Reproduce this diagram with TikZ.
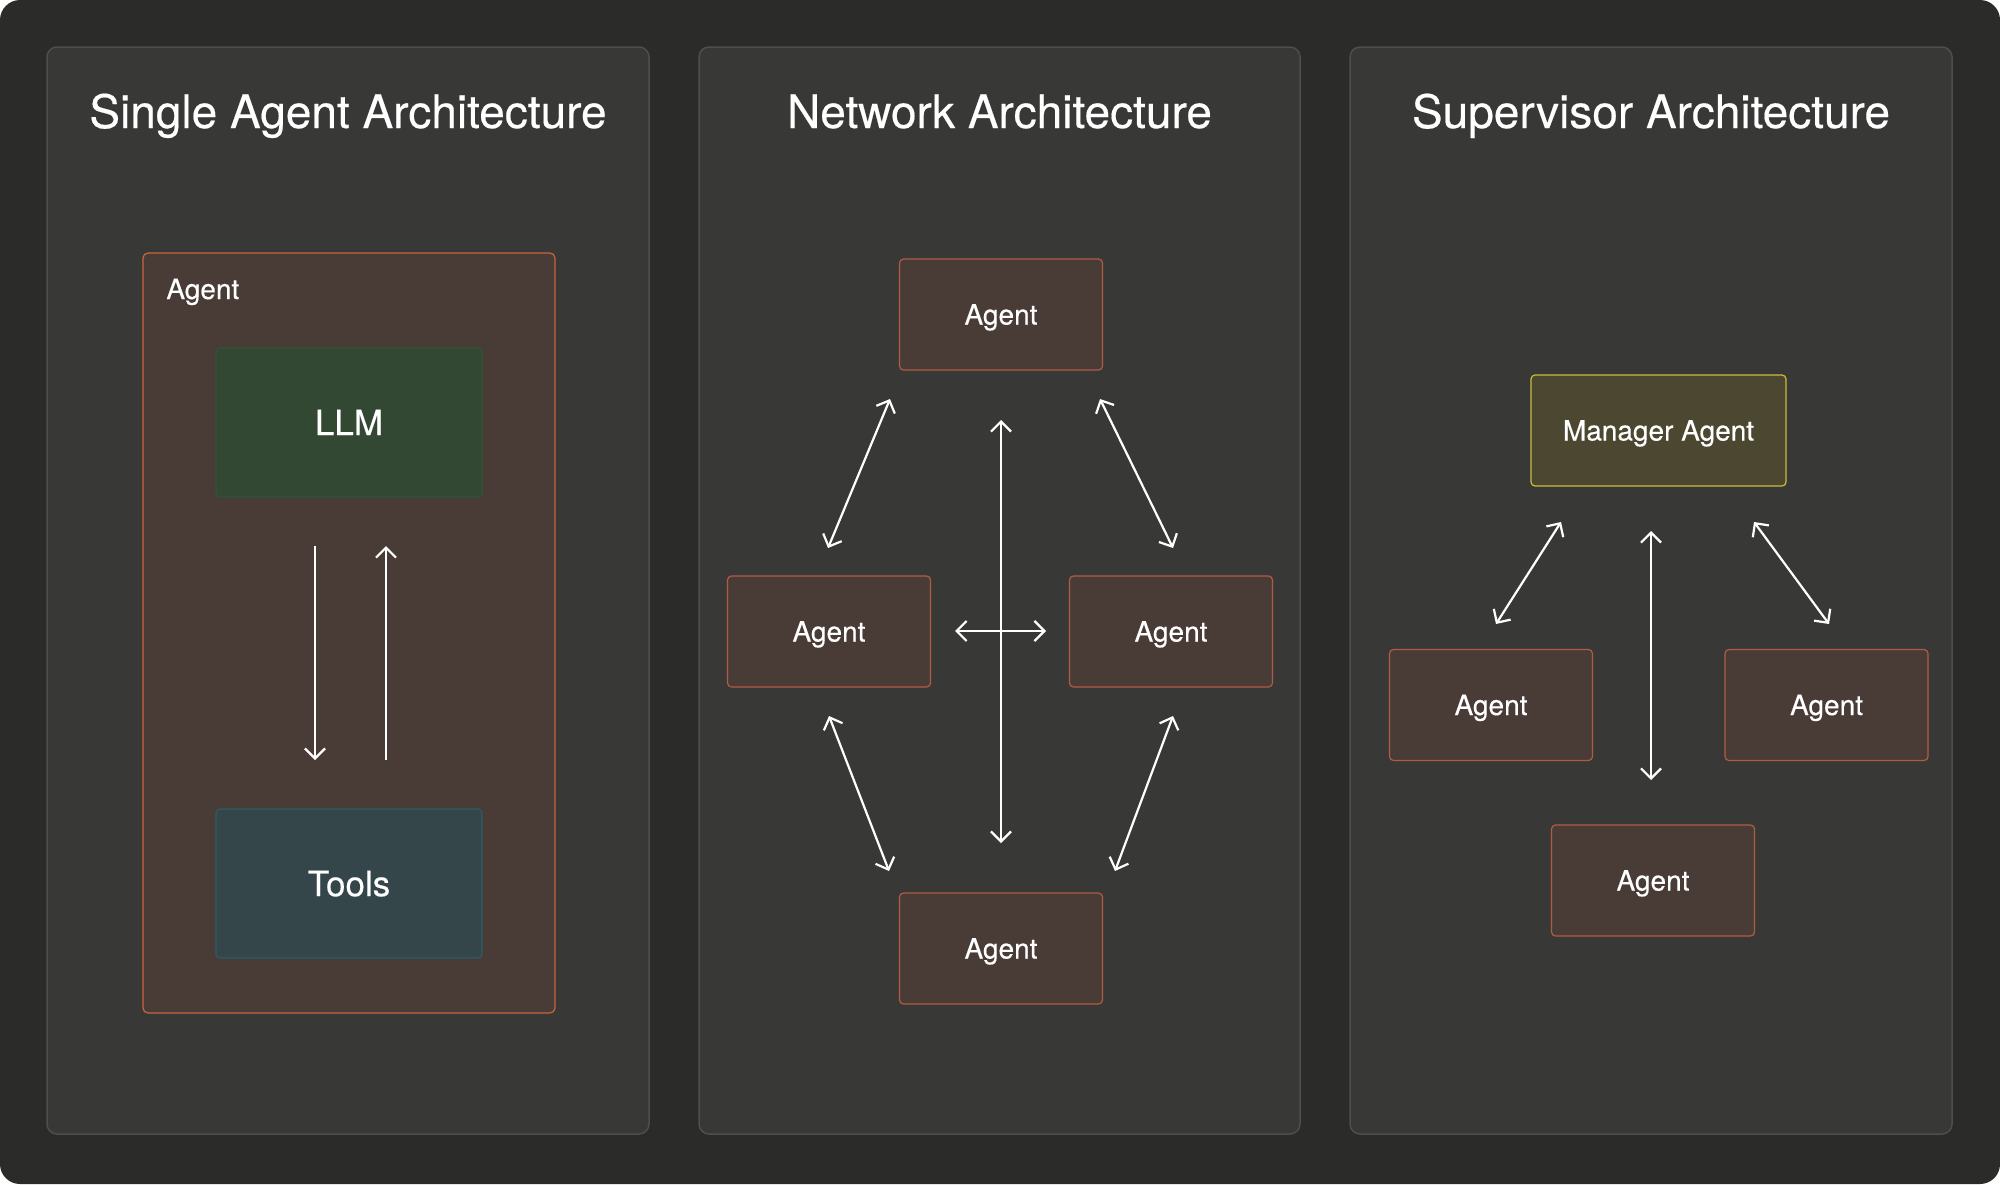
\documentclass[tikz,border=0pt]{standalone}
\usepackage{fontspec}
\setmainfont{TeX Gyre Heros}[FakeBold=0.35]
\usetikzlibrary{arrows.meta}
\definecolor{bgout}{HTML}{2B2B29}
\definecolor{panelfill}{HTML}{383836}
\definecolor{paneldraw}{HTML}{4E4E4C}
\definecolor{agentfill}{HTML}{493C37}
\definecolor{agentdraw}{HTML}{B05C45}
\definecolor{bigdraw}{HTML}{C8653F}
\definecolor{llmfill}{HTML}{334832}
\definecolor{llmdraw}{HTML}{2F5436}
\definecolor{toolsfill}{HTML}{34464A}
\definecolor{toolsdraw}{HTML}{2E5A66}
\definecolor{mgrfill}{HTML}{4B4730}
\definecolor{mgrdraw}{HTML}{C9BE3C}
\tikzset{
  panel/.style={draw=paneldraw, fill=panelfill, line width=0.75pt, rounded corners=5pt},
  title/.style={text=white, font=\fontsize{23}{27}\selectfont, anchor=base, inner sep=0pt},
  agentbox/.style={draw=agentdraw, fill=agentfill, line width=0.6pt, rounded corners=2pt,
    minimum width=101.5pt, minimum height=55.5pt, inner sep=0pt, text=white,
    font=\fontsize{14}{16}\selectfont, text height=10pt, text depth=0pt},
  bigbox/.style={draw=bigdraw, fill=agentfill, line width=0.6pt, rounded corners=2.5pt,
    minimum width=206pt, minimum height=380pt, inner sep=0pt},
  innerbox/.style={line width=0.6pt, rounded corners=2pt, minimum width=133pt,
    minimum height=74.5pt, inner sep=0pt, text=white, font=\fontsize{17.5}{20}\selectfont,
    text height=12.6pt, text depth=0pt},
  mgrbox/.style={draw=mgrdraw, fill=mgrfill, line width=0.6pt, rounded corners=2pt,
    minimum width=127.5pt, minimum height=55.5pt, inner sep=0pt, text=white,
    font=\fontsize{14}{16}\selectfont, text height=10pt, text depth=0pt},
  link/.style={draw=white, line width=1.1pt, {Straight Barb[length=5pt,width=10pt,line width=1.1pt]}-{Straight Barb[length=5pt,width=10pt,line width=1.1pt]}},
  onelink/.style={draw=white, line width=1.1pt, -{Straight Barb[length=5pt,width=10pt,line width=1.1pt]}}
}
\begin{document}
\begin{tikzpicture}[x=0.5pt,y=-0.5pt]
\useasboundingbox (0,0) rectangle (2000,1184);
\fill[white] (0,0) rectangle (2000,1184);
\fill[bgout, rounded corners=10pt] (0,0) rectangle (2000,1184);
% panels
\draw[panel] (47,47) rectangle (649,1134);
\draw[panel] (699,47) rectangle (1300,1134);
\draw[panel] (1350,47) rectangle (1952,1134);
\node[title] (t1) at (348,128) {Single Agent Architecture};
\node[title] (t2) at (999.5,128) {Network Architecture};
\node[title] (t3) at (1651,128) {Supervisor Architecture};
% single agent
\node[bigbox] (big) at (349,633) {};
\node[text=white, font=\fontsize{14}{16}\selectfont, anchor=base west, inner sep=0pt] (biglabel) at (166,299) {Agent};
\node[innerbox, draw=llmdraw, fill=llmfill] (llm) at (349,422.5) {LLM};
\node[innerbox, draw=toolsdraw, fill=toolsfill] (tools) at (349,883.5) {Tools};
\coordinate (d1) at (315,546);
\coordinate (d2) at (315,760);
\coordinate (u1) at (386,760);
\coordinate (u2) at (386,546);
\draw[onelink] (d1) -- (d2);
\draw[onelink] (u1) -- (u2);
% network
\node[agentbox] (ntop) at (1001,314.5) {Agent};
\node[agentbox] (nleft) at (829,631.5) {Agent};
\node[agentbox] (nright) at (1171,631.5) {Agent};
\node[agentbox] (nbot) at (1001,948.5) {Agent};
\coordinate (nv1) at (1001,420);
\coordinate (nv2) at (1001,843);
\coordinate (nh1) at (955,631);
\coordinate (nh2) at (1046,631);
\coordinate (ntl1) at (890,399);
\coordinate (ntl2) at (828,548);
\coordinate (ntr1) at (1100,399);
\coordinate (ntr2) at (1173,548);
\coordinate (nbl1) at (829,716);
\coordinate (nbl2) at (889,871);
\coordinate (nbr1) at (1173,716);
\coordinate (nbr2) at (1115,871);
\draw[link] (nv1) -- (nv2);
\draw[link] (nh1) -- (nh2);
\draw[link] (ntl1) -- (ntl2);
\draw[link] (ntr1) -- (ntr2);
\draw[link] (nbl1) -- (nbl2);
\draw[link] (nbr1) -- (nbr2);
% supervisor
\node[mgrbox] (mgr) at (1658.5,430.5) {Manager Agent};
\node[agentbox] (sleft) at (1491,705) {Agent};
\node[agentbox] (sright) at (1826.5,705) {Agent};
\node[agentbox] (sbot) at (1653,880.5) {Agent};
\coordinate (sv1) at (1651,531);
\coordinate (sv2) at (1651,780);
\coordinate (sl1) at (1561,522);
\coordinate (sl2) at (1496,624);
\coordinate (sr1) at (1754,522);
\coordinate (sr2) at (1829,624);
\draw[link] (sv1) -- (sv2);
\draw[link] (sl1) -- (sl2);
\draw[link] (sr1) -- (sr2);
\end{tikzpicture}
\end{document}
